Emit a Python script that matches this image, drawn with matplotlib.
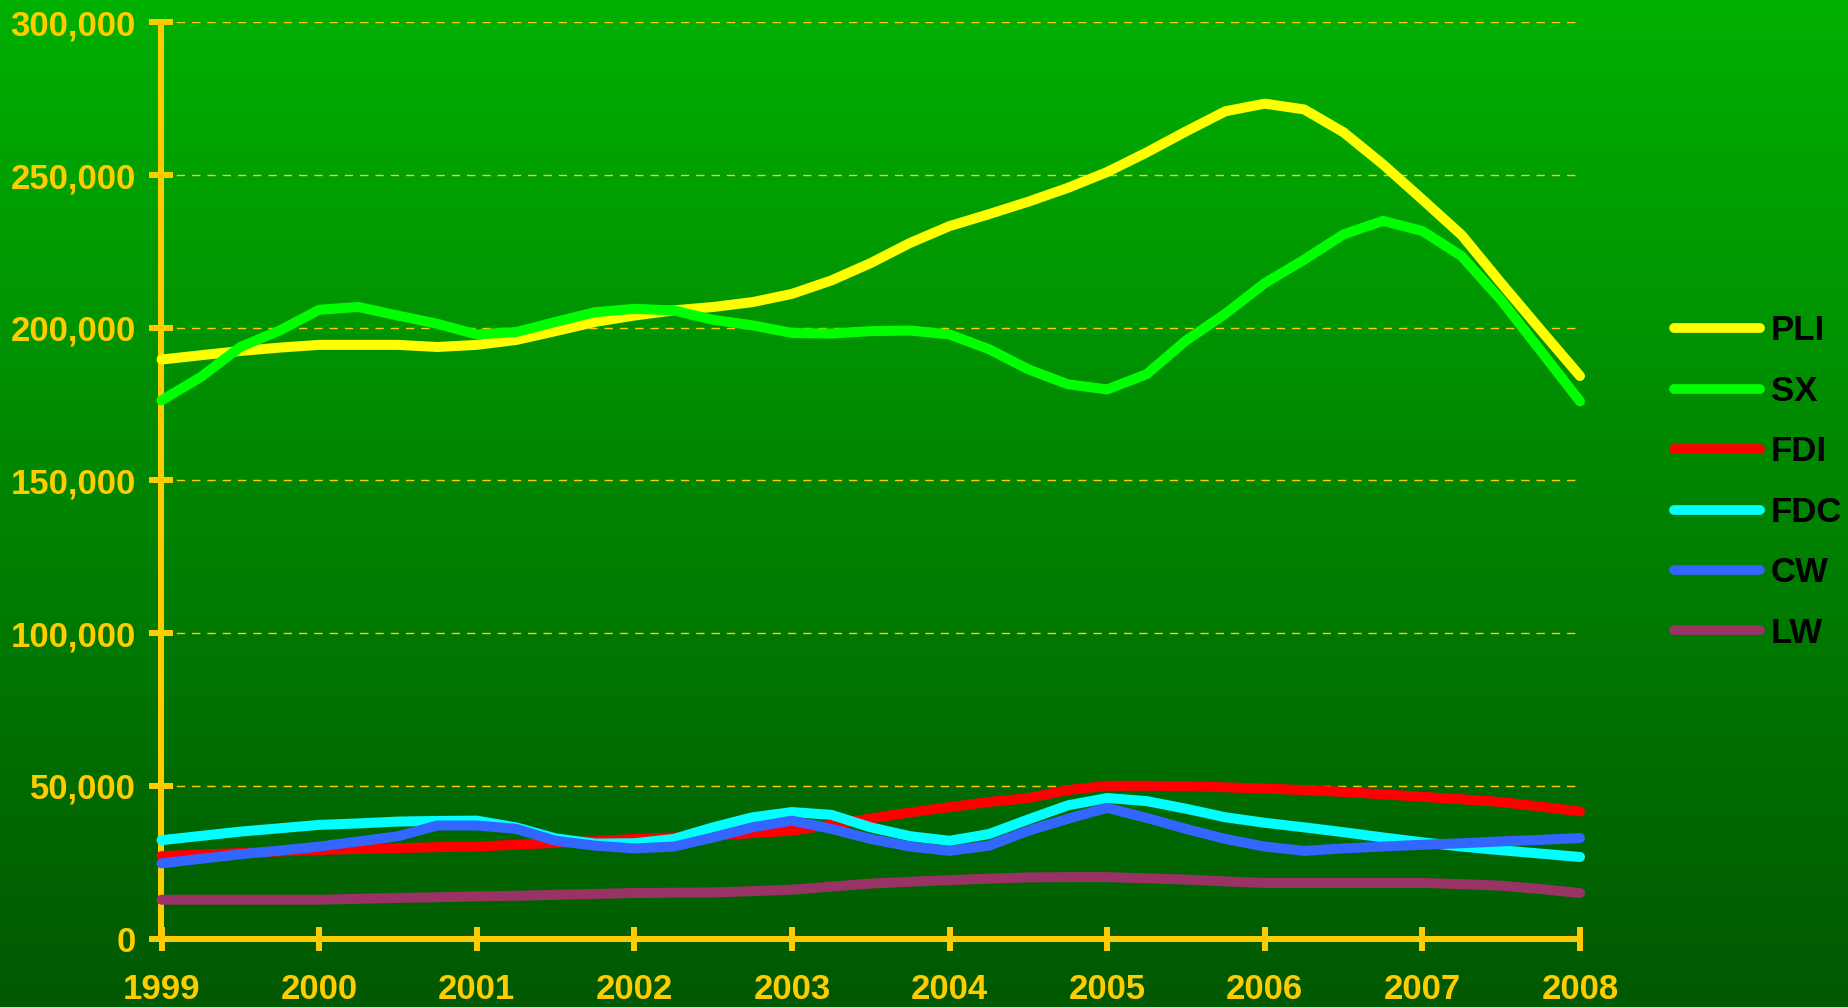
import numpy as np
import matplotlib
matplotlib.use("Agg")
import matplotlib.pyplot as plt
from matplotlib.colors import LinearSegmentedColormap

# ---- data (quarterly, 1999.00 .. 2008.00) ----
quarters = [1999 + 0.25 * i for i in range(37)]

PLI = [189600, 191000, 192400, 193500, 194400, 194400, 194400, 193700, 194400,
       196000, 198900, 201900, 204000, 205700, 206800, 208400, 211100, 215500,
       221200, 227800, 233300, 237200, 241300, 245800, 251000, 257400, 264300,
       270900, 273400, 271500, 264000, 253500, 242000, 230300, 214600, 199300,
       184200]
SX = [176200, 183900, 193700, 199100, 205900, 206800, 204000, 201300, 197800,
      198600, 201900, 205100, 206200, 205700, 202600, 200800, 198300, 198100,
      198900, 199100, 197800, 193000, 186400, 181500, 179800, 184800, 195800,
      204600, 214600, 222300, 230600, 235000, 231700, 223400, 209000, 192500,
      175900]
FDI = [27000, 27500, 28000, 28500, 29000, 29300, 29600, 29900, 30100,
       30700, 31300, 31900, 32600, 33100, 33700, 34500, 35300, 37300,
       39300, 41300, 43000, 44700, 46000, 48600, 50000, 50000, 49900,
       49500, 49100, 48600, 48000, 47200, 46400, 45600, 44700, 43200,
       41600]
FDC = [32200, 33600, 35000, 36100, 37200, 37700, 38300, 38500, 38600,
       36400, 32800, 31100, 31200, 32600, 36400, 39700, 41400, 40500,
       36400, 33500, 32000, 34200, 39000, 43600, 46000, 45000, 42500,
       39700, 37900, 36400, 34800, 33100, 31500, 30100, 28900, 27800,
       26700]
CW = [24600, 26100, 27600, 28800, 30100, 31800, 33500, 37000, 37000,
      35900, 32000, 30400, 29500, 30100, 33100, 36400, 38600, 35900,
      32600, 30100, 28700, 30400, 35300, 39200, 42800, 39500, 35900,
      32600, 30100, 28700, 29500, 30100, 30700, 31200, 31800, 32300,
      32900]
LW = [12700, 12700, 12700, 12700, 12700, 13000, 13300, 13500, 13800,
      14000, 14300, 14600, 14900, 15000, 15100, 15500, 16000, 17000,
      18000, 18600, 19100, 19600, 20000, 20100, 20100, 19700, 19300,
      18700, 18200, 18200, 18200, 18200, 18200, 17800, 17300, 16200,
      14900]

series_names = ["PLI", "SX", "FDI", "FDC", "CW", "LW"]
series_values = [PLI, SX, FDI, FDC, CW, LW]
series_colors = ["#FFFF00", "#00FF00", "#FF0000", "#00FFFF", "#3366FF", "#993366"]

year_ticks = list(range(1999, 2009))
y_ticks = [0, 50000, 100000, 150000, 200000, 250000, 300000]
y_tick_labels = ["0", "50,000", "100,000", "150,000", "200,000", "250,000", "300,000"]

GOLD = "#FFCC00"
plt.rcParams['font.family'] = ['Liberation Sans', 'DejaVu Sans']

W, H, DPI = 1849, 1007, 100
fig = plt.figure(figsize=(W / DPI, H / DPI), dpi=DPI)

# background gradient
bg = fig.add_axes([0, 0, 1, 1], zorder=-10)
cmap = LinearSegmentedColormap.from_list("g", ["#00B000", "#005800"])
grad = np.linspace(0, 1, 512).reshape(-1, 1)
bg.imshow(grad, aspect="auto", cmap=cmap, extent=[0, 1, 0, 1], origin="upper")
bg.set_axis_off()

left, right = 161.5 / W, 1580 / W
bottom, top = 1 - 938.5 / H, 1 - 22.4 / H
ax = fig.add_axes([left, bottom, right - left, top - bottom])
ax.set_facecolor("none")

for name, vals, col in zip(series_names, series_values, series_colors):
    ax.plot(quarters, vals, color=col, lw=7.2, label=name, clip_on=False,
            solid_joinstyle="round", solid_capstyle="round", zorder=3)

ax.set_xlim(1999, 2008)
ax.set_ylim(0, 300000)

for s in ["top", "right"]:
    ax.spines[s].set_visible(False)
for s in ["left", "bottom"]:
    ax.spines[s].set_color(GOLD)
    ax.spines[s].set_linewidth(4.3)
    ax.spines[s].set_capstyle("round")

ax.set_xticks(year_ticks)
ax.set_xticklabels([str(y) for y in year_ticks])
ax.set_yticks(y_ticks)
ax.set_yticklabels(y_tick_labels)
ax.tick_params(axis="both", direction="inout", length=17, width=4.3,
               color=GOLD, labelcolor=GOLD, labelsize=25)
ax.tick_params(axis="x", pad=16)
ax.tick_params(axis="y", pad=10)
for lab in ax.get_xticklabels() + ax.get_yticklabels():
    lab.set_fontweight("bold")

ax.yaxis.grid(True, color=GOLD, linestyle=(0, (6, 5)), linewidth=1.0)
ax.set_axisbelow(True)

leg = fig.legend(loc="center left", bbox_to_anchor=(1674 / W, 1 - 482 / H),
                 frameon=False, handlelength=2.48, borderpad=0,
                 borderaxespad=0, handletextpad=0.3, labelspacing=0.79,
                 prop={"weight": "bold", "size": 25})
for line in leg.get_lines():
    line.set_linewidth(7)
    line.set_solid_capstyle("round")
for t in leg.get_texts():
    t.set_color("black")

fig.savefig("out.png", dpi=DPI)
